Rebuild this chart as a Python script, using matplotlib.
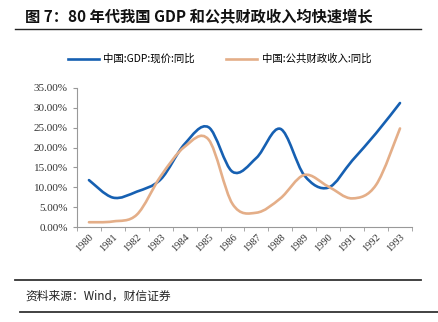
import matplotlib.pyplot as plt
import numpy as np
from matplotlib.path import Path
from matplotlib.patches import PathPatch
from matplotlib.ticker import FuncFormatter

plt.rcParams['font.family'] = ['Noto Sans CJK SC', 'DejaVu Sans']

years = ['1980', '1981', '1982', '1983', '1984', '1985', '1986',
         '1987', '1988', '1989', '1990', '1991', '1992', '1993']
gdp = [11.8, 7.4, 8.9, 12.0, 20.9, 25.1, 13.9, 17.4, 24.7, 13.0, 9.9, 16.7, 23.6, 31.2]
revenue = [1.2, 1.4, 3.1, 12.8, 20.2, 22.0, 5.8, 3.6, 7.2, 13.1, 10.2, 7.2, 10.6, 24.8]

blue = '#1660B2'
orange = '#E4AE88'


def smooth_path(x, y):
    # Excel-style smoothed line: cubic bezier through each point
    x = np.asarray(x, float)
    y = np.asarray(y, float)
    n = len(x)
    verts = [(x[0], y[0])]
    codes = [Path.MOVETO]
    for i in range(n - 1):
        i0 = max(i - 1, 0)
        i3 = min(i + 2, n - 1)
        c1 = (x[i] + (x[i + 1] - x[i0]) / 6, y[i] + (y[i + 1] - y[i0]) / 6)
        c2 = (x[i + 1] - (x[i3] - x[i]) / 6, y[i + 1] - (y[i3] - y[i]) / 6)
        verts += [c1, c2, (x[i + 1], y[i + 1])]
        codes += [Path.CURVE4] * 3
    return Path(verts, codes)


fig = plt.figure(figsize=(4.39, 3.22), dpi=100)
ax = fig.add_axes([0.1754, 0.295, 0.763, 0.432])

xs = np.arange(len(years))
for vals, col, lab in [(gdp, blue, '中国:GDP:现价:同比'),
                       (revenue, orange, '中国:公共财政收入:同比')]:
    ax.add_patch(PathPatch(smooth_path(xs, vals), facecolor='none',
                           edgecolor=col, lw=1.9, capstyle='round'))
    ax.plot([], [], color=col, lw=1.9, label=lab)

ax.set_xlim(-0.5, len(years) - 0.5)
ax.set_ylim(0, 35)
ax.set_yticks(np.arange(0, 36, 5))
ax.yaxis.set_major_formatter(FuncFormatter(lambda v, p: '%.2f%%' % v))
ax.set_xticks(xs)
ax.set_xticklabels(years, rotation=45, ha='right', rotation_mode='anchor',
                   family='Liberation Serif', fontsize=7.5, color='#333333')
ax.set_xticks(np.arange(-0.5, len(years)), minor=True)
ax.tick_params(axis='x', which='major', length=0, pad=4)
ax.tick_params(axis='x', which='minor', length=3, color='#999999')
ax.tick_params(axis='y', length=3, color='#999999', labelsize=8, labelcolor='#333333')
for t in ax.get_yticklabels():
    t.set_family('Liberation Serif')
for s in ['top', 'right']:
    ax.spines[s].set_visible(False)
for s in ['left', 'bottom']:
    ax.spines[s].set_color('#999999')
    ax.spines[s].set_linewidth(0.8)

fig.legend(loc='center', bbox_to_anchor=(0.5, 1 - 59 / 322), ncol=2, frameon=False,
           fontsize=7.5, handlelength=3.0, columnspacing=3.0, handletextpad=0.4)

fig.text(25 / 439, 1 - 17 / 322, '图 7：80 年代我国 GDP 和公共财政收入均快速增长',
         fontsize=11, fontweight='bold', va='center', ha='left', color='#111111')
fig.add_artist(plt.Line2D([15 / 439, 421 / 439], [1 - 29 / 322] * 2, color='#222222', lw=1))
fig.add_artist(plt.Line2D([15 / 439, 421 / 439], [1 - 280 / 322] * 2, color='#333333', lw=1.3))
fig.text(25 / 439, 1 - 296 / 322, '资料来源：Wind，财信证券', fontsize=8.5, style='italic',
         va='center', ha='left', color='#222222')
fig.add_artist(plt.Line2D([20 / 439, 1.0], [1 - 312 / 322] * 2, color='#333333', lw=1.3))

fig.savefig('out.png', dpi=100)
